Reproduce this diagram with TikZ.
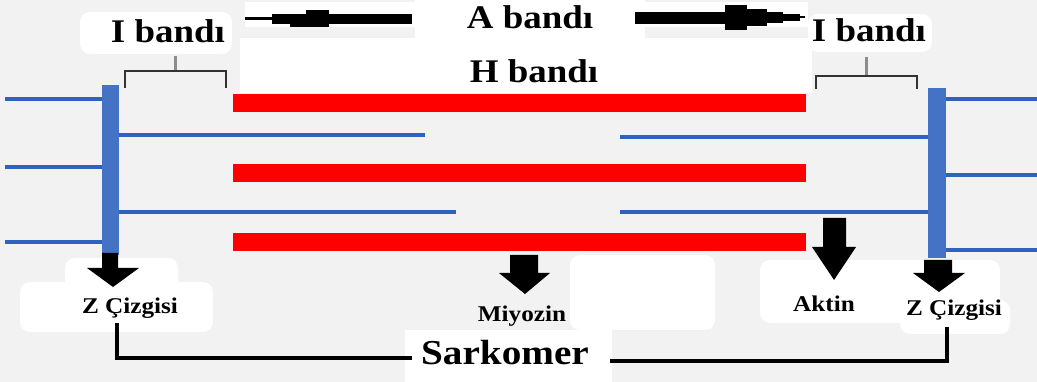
\documentclass[tikz,border=0pt]{standalone}
\usepackage{fontspec}
\setmainfont{Liberation Serif}[FakeStretch=1.12]
\definecolor{bggray}{HTML}{F2F2F2}
\definecolor{zblue}{HTML}{4472C4}
\definecolor{actin}{HTML}{2F62C0}
\definecolor{myosin}{HTML}{FF0000}
\definecolor{bracketgray}{HTML}{333333}
\definecolor{stemgray}{HTML}{8C8C8C}
\tikzset{
  patch/.style={fill=white, rounded corners=10pt},
  thinfil/.style={draw=actin, line width=3.2pt},
  zdisc/.style={fill=zblue},
  thickfil/.style={fill=myosin},
  biglbl/.style={font=\bfseries\fontsize{33}{36}\selectfont, inner sep=0pt, anchor=base},
  smalllbl/.style={font=\bfseries\fontsize{22.5}{25}\selectfont, inner sep=0pt, anchor=base},
  brace/.style={draw=bracketgray, line width=2pt},
  bracestem/.style={draw=stemgray, line width=3pt},
  sarkline/.style={draw=black, line width=4pt},
  pointer/.style={fill=black}
}
\begin{document}
\begin{tikzpicture}[x=1pt,y=-1pt]
\useasboundingbox (0,0) rectangle (1037,382);
\fill[bggray] (0,0) rectangle (1037,382);

% light patches behind the labels
\fill[patch] (80,12) rectangle (232,54);
\fill[white] (245,2) rectangle (415,27);
\fill[white] (415,0) rectangle (645,40);
\fill[white] (645,2) rectangle (808,27);
\fill[patch] (808,14) rectangle (932,52);
\fill[white] (240,38) rectangle (812,93);
\fill[patch] (65,258) rectangle (178,292);
\fill[patch] (20,282) rectangle (213,332);
\fill[patch] (570,255) rectangle (715,330);
\fill[patch] (760,260) rectangle (1000,323);
\fill[patch] (900,300) rectangle (1010,334);
\fill[white] (405,330) rectangle (612,382);

% thick (myosin) filaments
\fill[thickfil] (233,94) rectangle (806,112);
\fill[thickfil] (233,164) rectangle (806,182);
\fill[thickfil] (233,233) rectangle (806,251);

% Z discs
\fill[zdisc] (102,85) rectangle (119,255);
\fill[zdisc] (928,88) rectangle (946,258);
\coordinate (zL) at (110,85);
\coordinate (zR) at (937,88);

% thin (actin) filaments
\draw[thinfil] (5,99) -- (102,99);
\draw[thinfil] (5,167) -- (102,167);
\draw[thinfil] (5,242) -- (102,242);
\draw[thinfil] (119,135) -- (425,135);
\draw[thinfil] (119,212) -- (456,212);
\draw[thinfil] (620,137) -- (928,137);
\draw[thinfil] (620,212) -- (928,212);
\draw[thinfil] (946,99) -- (1037,99);
\draw[thinfil] (946,175) -- (1037,175);
\draw[thinfil] (946,250) -- (1037,250);

% band labels
\node[biglbl] (aband) at (530,29) {A bandı};
\node[biglbl] (hband) at (534,83) {H bandı};
\node[biglbl] (ibandL) at (168,43) {I bandı};
\node[biglbl] (ibandR) at (869,42) {I bandı};

% A band arrows
\fill[pointer] (245,17) rectangle (272,20);
\fill[pointer] (272,14) rectangle (290,24);
\fill[pointer] (290,14) rectangle (306,27);
\fill[pointer] (306,10) rectangle (329,27);
\fill[pointer] (329,14) rectangle (412,24);
\fill[pointer] (635,12) rectangle (725,24);
\fill[pointer] (725,5) rectangle (747,30);
\fill[pointer] (747,9) rectangle (767,26);
\fill[pointer] (767,12) rectangle (783,23);
\fill[pointer] (783,14) rectangle (800,21);
\fill[pointer] (800,16) rectangle (805,18);

% I band brackets
\draw[bracestem] (175,56) -- (175,71);
\draw[brace] (125,88) -- (125,71) -- (226,71) -- (226,88);
\draw[bracestem] (866,57) -- (866,76);
\draw[brace] (816,89) -- (816,76) -- (917,76) -- (917,89);

% pointer arrows
\fill[pointer] (102,253) -- (118,253) -- (118,268) -- (139,268) -- (113,287) -- (87,268) -- (102,268) -- cycle;
\fill[pointer] (510,255) -- (538,255) -- (538,273) -- (550,273) -- (525,294) -- (499,273) -- (510,273) -- cycle;
\fill[pointer] (823,218) -- (846,218) -- (846,247) -- (856,247) -- (834,280) -- (812,247) -- (823,247) -- cycle;
\fill[pointer] (924,260) -- (952,260) -- (952,273) -- (965,273) -- (939,292) -- (913,273) -- (924,273) -- cycle;

% structure labels
\node[smalllbl] (zcL) at (130,313) {Z Çizgisi};
\node[smalllbl] (myo) at (522,322) {Miyozin};
\node[smalllbl] (akt) at (824,312) {Aktin};
\node[smalllbl] (zcR) at (954,316) {Z Çizgisi};
\node[font=\bfseries\fontsize{35}{38}\selectfont, inner sep=0pt, anchor=base] (sark) at (505,364) {Sarkomer};

% sarcomere span
\coordinate (sL) at (117,323);
\coordinate (sR) at (947,327);
\coordinate (sarkW) at (412,358);
\coordinate (sarkE) at (610,361);
\draw[sarkline] (sL) |- (sarkW);
\draw[sarkline] (sarkE) -| (sR);
\end{tikzpicture}
\end{document}
